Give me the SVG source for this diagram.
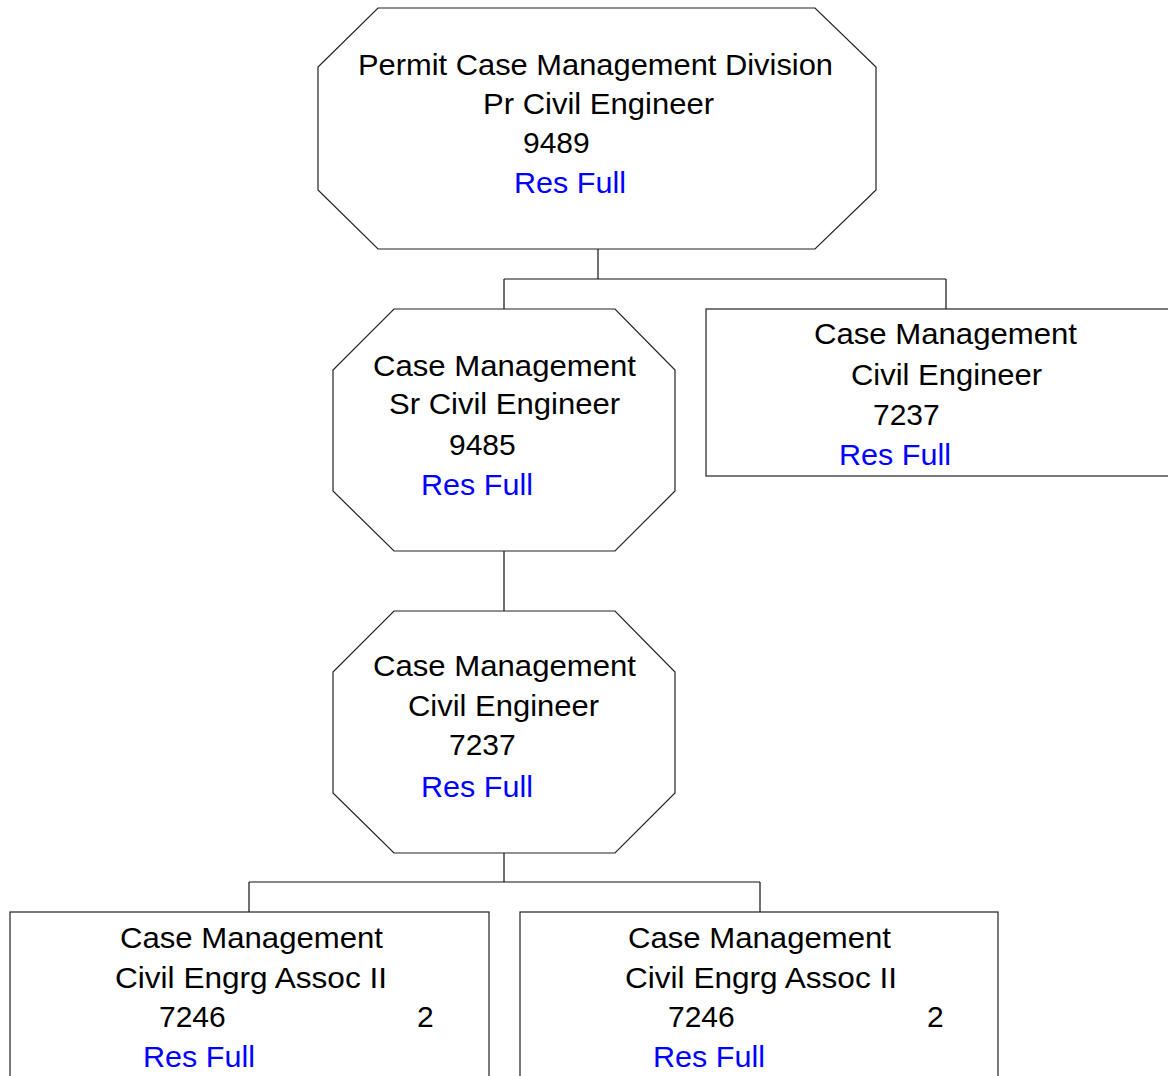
<svg xmlns="http://www.w3.org/2000/svg" width="1168" height="1076" viewBox="0 0 1168 1076">
<style>
.shape{fill:#fff;stroke:#222;stroke-width:1.2}
.conn{fill:none;stroke:#111;stroke-width:1.2}
text{font-family:"Liberation Sans",Arial,sans-serif;font-size:30px;fill:#000}
.blue{fill:#0000ff}
</style>
<rect x="0" y="0" width="1168" height="1076" fill="#fff"/>
<g id="connectors">
<path class="conn" d="M598,249V279M504,279H946M504,279V309M946,279V309"/>
<path class="conn" d="M504,551V611"/>
<path class="conn" d="M504,853V882M249,882H760M249,882V912M760,882V912"/>
</g>
<g id="node-top">
<polygon class="shape" points="378,8 815,8 876,67 876,190 815,249 378,249 318,190 318,67"/>
<text x="358" y="75" textLength="475" lengthAdjust="spacingAndGlyphs">Permit Case Management Division</text>
<text x="483" y="114" textLength="231" lengthAdjust="spacingAndGlyphs">Pr Civil Engineer</text>
<text x="523" y="153">9489</text>
<text class="blue" x="514" y="193" textLength="112" lengthAdjust="spacingAndGlyphs">Res Full</text>
</g>
<g id="node-sr">
<polygon class="shape" points="394,309 615,309 675,370 675,491 615,551 394,551 333,491 333,370"/>
<text x="373" y="376" textLength="263" lengthAdjust="spacingAndGlyphs">Case Management</text>
<text x="389" y="414" textLength="231" lengthAdjust="spacingAndGlyphs">Sr Civil Engineer</text>
<text x="449" y="455">9485</text>
<text class="blue" x="421" y="495" textLength="112" lengthAdjust="spacingAndGlyphs">Res Full</text>
</g>
<g id="node-right">
<rect class="shape" x="706" y="309" width="480" height="167"/>
<text x="814" y="344" textLength="263" lengthAdjust="spacingAndGlyphs">Case Management</text>
<text x="851" y="385" textLength="191" lengthAdjust="spacingAndGlyphs">Civil Engineer</text>
<text x="873" y="425">7237</text>
<text class="blue" x="839" y="465" textLength="112" lengthAdjust="spacingAndGlyphs">Res Full</text>
</g>
<g id="node-ce">
<polygon class="shape" points="394,611 615,611 675,672 675,793 615,853 394,853 333,793 333,672"/>
<text x="373" y="676" textLength="263" lengthAdjust="spacingAndGlyphs">Case Management</text>
<text x="408" y="716" textLength="191" lengthAdjust="spacingAndGlyphs">Civil Engineer</text>
<text x="449" y="755">7237</text>
<text class="blue" x="421" y="797" textLength="112" lengthAdjust="spacingAndGlyphs">Res Full</text>
</g>
<g id="node-assoc-left">
<rect class="shape" x="10" y="912" width="479" height="180"/>
<text x="120" y="948" textLength="263" lengthAdjust="spacingAndGlyphs">Case Management</text>
<text x="115" y="988" textLength="272" lengthAdjust="spacingAndGlyphs">Civil Engrg Assoc II</text>
<text x="159" y="1027">7246</text>
<text x="417" y="1027">2</text>
<text class="blue" x="143" y="1067" textLength="112" lengthAdjust="spacingAndGlyphs">Res Full</text>
</g>
<g id="node-assoc-right">
<rect class="shape" x="520" y="912" width="478" height="180"/>
<text x="628" y="948" textLength="263" lengthAdjust="spacingAndGlyphs">Case Management</text>
<text x="625" y="988" textLength="272" lengthAdjust="spacingAndGlyphs">Civil Engrg Assoc II</text>
<text x="668" y="1027">7246</text>
<text x="927" y="1027">2</text>
<text class="blue" x="653" y="1067" textLength="112" lengthAdjust="spacingAndGlyphs">Res Full</text>
</g>
</svg>
